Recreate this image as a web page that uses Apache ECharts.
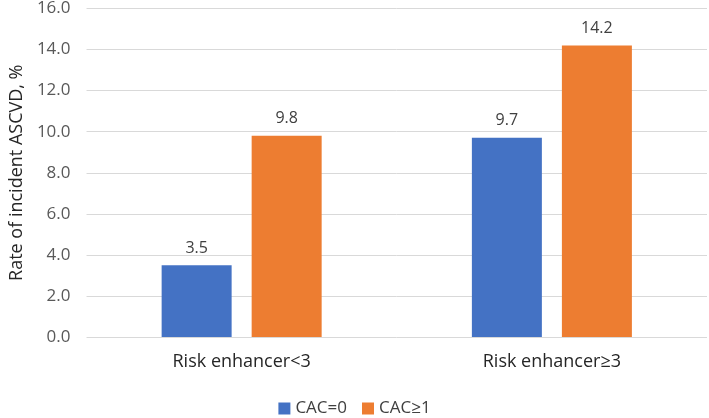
<!DOCTYPE html>
<html><head><meta charset="utf-8">
<script src="https://cdn.jsdelivr.net/npm/echarts@6/dist/echarts.min.js"></script>
<style>html,body{margin:0;padding:0;background:#fff}#c{width:709px;height:418px}</style>
</head><body><div id="c"></div>
<script>
const categories = ['Risk enhancer<3', 'Risk enhancer≥3'];
const seriesNames = ['CAC=0', 'CAC≥1'];
const cac0 = [3.5, 9.7];
const cac1 = [9.8, 14.2];
const yTicks = [0, 2, 4, 6, 8, 10, 12, 14, 16];

const font = "'Open Sans', 'Liberation Sans', sans-serif";
const chart = echarts.init(document.getElementById('c'));
const lbl = {show: true, position: 'top', distance: 9, color: '#404040', fontSize: 16, fontFamily: font, formatter: p => p.value.toFixed(1)};
chart.setOption({
  animation: false,
  textStyle: {fontFamily: font},
  grid: {left: 79, right: 2, top: 7, bottom: 81, containLabel: false},
  legend: {top: 400, left: 'center', itemWidth: 12, itemHeight: 12, itemGap: 15, padding: 0,
    textStyle: {fontSize: 17, color: '#404040', fontFamily: font},
    data: seriesNames.map(n => ({name: n, icon: 'rect'}))},
  xAxis: {type: 'category', data: categories,
    axisLine: {show: false}, axisTick: {show: false},
    axisLabel: {fontSize: 18, color: '#262626', margin: 16, fontFamily: font}},
  yAxis: {type: 'value', min: yTicks[0], max: yTicks[yTicks.length-1], interval: 2,
    name: 'Rate of incident ASCVD, %', nameLocation: 'middle', nameRotate: 90, nameGap: 58,
    nameTextStyle: {fontSize: 18, color: '#262626', fontFamily: font},
    axisLabel: {formatter: v => v.toFixed(1), fontSize: 17, color: '#595959', margin: 16, fontFamily: font},
    splitLine: {lineStyle: {color: '#d9d9d9', width: 1}},
    axisLine: {show: false}, axisTick: {show: false}},
  series: [
    {name: seriesNames[0], type: 'bar', data: cac0, barWidth: 70, barGap: '28.6%', itemStyle: {color: '#4472C4'}, label: lbl},
    {name: seriesNames[1], type: 'bar', data: cac1, barWidth: 70, barGap: '28.6%', itemStyle: {color: '#ED7D31'}, label: lbl}
  ]
});
</script></body></html>
